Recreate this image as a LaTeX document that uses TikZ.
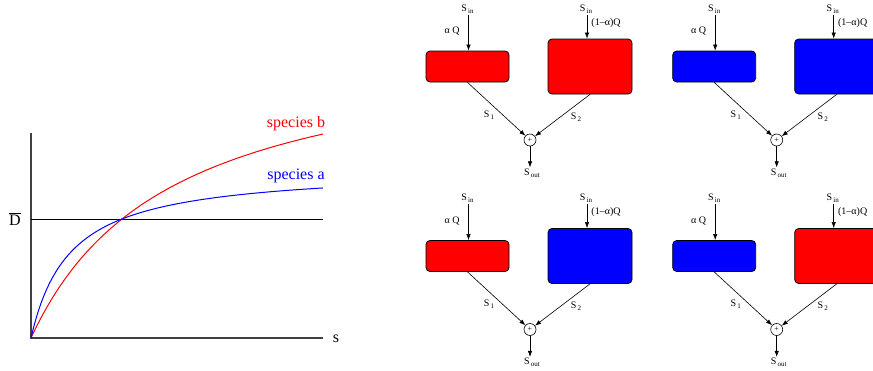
\documentclass[tikz,border=0pt]{standalone}
\usepackage{fontspec}
\setmainfont{Liberation Serif}
\usetikzlibrary{arrows.meta}
\tikzset{
  axisline/.style={draw=black!75, line width=1.3pt},
  dline/.style={draw=black, line width=0.9pt},
  curve/.style={line width=1pt, samples=150, smooth},
  plotlabel/.style={font=\fontsize{16}{19}\selectfont, inner sep=0pt},
  tank/.style={draw=black, line width=0.8pt, rounded corners=4pt, inner sep=0pt},
  lab/.style={font=\fontsize{10}{12}\selectfont, inner sep=1pt},
  flow/.style={draw=black, line width=0.6pt, -{Latex[length=6pt,width=4.4pt]}},
  summer/.style={circle, draw=black, fill=white, line width=0.6pt, minimum size=12pt, inner sep=0pt, font=\fontsize{8}{8}\selectfont}
}
\newcommand\mysub[1]{\hspace{0.12em}\raisebox{-0.45ex}{\fontsize{7}{7}\selectfont #1}}
\newcommand\mypanel[5]{%
  \begin{scope}[shift={(#1,#2)}]
    \node[lab] (sinL#5) at (467.5,9) {S\mysub{in}};
    \node[lab] (sinR#5) at (586,9) {S\mysub{in}};
    \node[tank, fill=#3, minimum width=83pt, minimum height=31pt] (boxL#5) at (467.5,66.5) {};
    \node[tank, fill=#4, minimum width=84pt, minimum height=55pt] (boxR#5) at (590,66.5) {};
    \node[lab] (aq#5) at (452,31) {α Q};
    \node[lab] (bq#5) at (606,23) {(1\textendash α)Q};
    \node[summer] (plus#5) at (530,140) {+};
    \node[lab] (sout#5) at (532,173) {S\mysub{out}};
    \node[lab] (s1#5) at (489,115) {S\mysub{1}};
    \node[lab] (s2#5) at (576,117) {S\mysub{2}};
    \draw[flow] ([xshift=1pt]sinL#5.south) -- ([xshift=1pt]sinL#5.south |- boxL#5.north);
    \draw[flow] ([xshift=1pt]sinR#5.south) -- ([xshift=1pt]sinR#5.south |- boxR#5.north);
    \draw[flow] (boxL#5.south) -- (plus#5);
    \draw[flow] (boxR#5.south) -- (plus#5);
    \draw[flow] (plus#5.south) -- (plus#5.south |- sout#5.north);
  \end{scope}}
\begin{document}
\begin{tikzpicture}[x=1pt,y=-1pt]
\useasboundingbox (0,0) rectangle (873,370);
% plot
\coordinate (o) at (31,338);
\coordinate (ytop) at (31,133);
\coordinate (xend) at (323,338);
\coordinate (d0) at (31,219);
\coordinate (d1) at (323,219);
\draw[axisline] (ytop) -- (o) -- (xend);
\draw[dline] (d0) -- (d1);
\draw[curve, red, domain=0:2.92] plot ({100*\x+31},{338-301.5*\x/(1.396+\x)});
\draw[curve, blue, domain=0:2.92] plot ({100*\x+31},{338-170.1*\x/(0.3905+\x)});
\node[plotlabel, red] (lb) at (296,124) {species b};
\node[plotlabel, blue] (la) at (296,176) {species a};
\node[plotlabel] (dl) at (15,219) {$\overline{\mbox{D}}$};
\node[plotlabel] (sl) at (336,339) {s};
% panels
\mypanel{0}{0}{red}{red}{A}
\mypanel{246.7}{0}{blue}{blue}{B}
\mypanel{0}{189.5}{red}{blue}{C}
\mypanel{246.7}{189.5}{blue}{red}{D}
\end{tikzpicture}
\end{document}
